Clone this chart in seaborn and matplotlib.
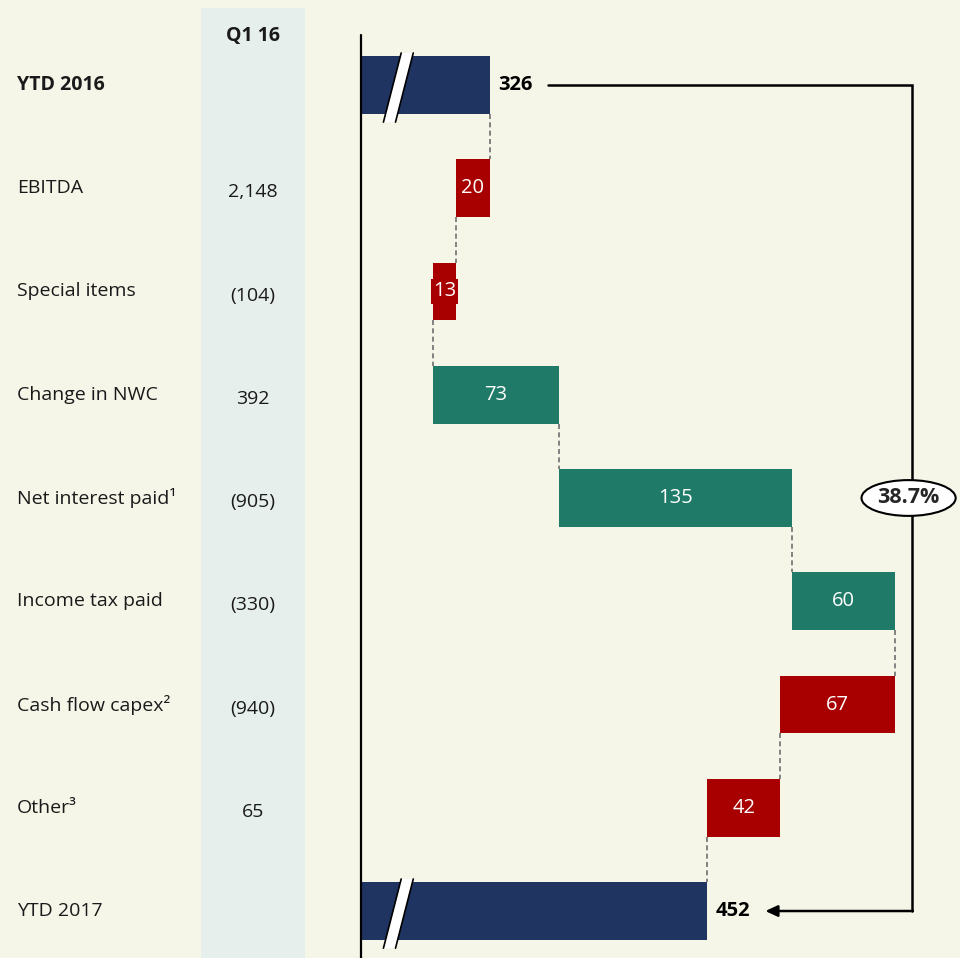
import numpy as np
import matplotlib
matplotlib.use('Agg')
import matplotlib.pyplot as plt
import matplotlib.transforms as mtransforms
from matplotlib.patches import Rectangle, Polygon
import seaborn as sns

# data
labels = ['YTD 2016', 'EBITDA', 'Special items', 'Change in NWC', 'Net interest paid¹',
          'Income tax paid', 'Cash flow capex²', 'Other³', 'YTD 2017']
q1_16 = ['', '2,148', '(104)', '392', '(905)', '(330)', '(940)', '65', '']
changes = [326, -20, -13, 73, 135, 60, -67, -42, 452]
growth = '38.7%'

BG = '#f5f6e8'
BAND = '#e6efec'
NAVY = '#1f3461'
RED = '#a80000'
GREEN = '#1f7a68'

sns.set_theme(style='white')
plt.rcParams['font.family'] = ['Open Sans', 'DejaVu Sans']
FS = 14

fig = plt.figure(figsize=(9.6, 9.58), dpi=100, facecolor=BG)
ax = fig.add_axes([361 / 960, 0, 599 / 960, 1])
ax.set_facecolor(BG)
xmin, xmax = 251.2, 598.4
ax.set_xlim(xmin, xmax)
ax.set_ylim(8.455, -0.823)
ax.axis('off')

# band behind the Q1 16 column
fig.patches.append(Rectangle((201 / 960, 0), 104 / 960, 950 / 958, transform=fig.transFigure,
                             facecolor=BAND, edgecolor='none', zorder=-1))

h = 0.56
n = len(changes)
running = 0
lefts, widths, colors, ends = [], [], [], []
for i, c in enumerate(changes):
    if i == 0 or i == n - 1:
        lefts.append(xmin)
        widths.append(c - xmin)
        colors.append(NAVY)
        running = c
    else:
        new = running + c
        lefts.append(min(running, new))
        widths.append(abs(c))
        colors.append(GREEN if c > 0 else RED)
        running = new
    ends.append(running)

ys = np.arange(n)
ax.barh(ys, widths, left=lefts, height=h, color=colors, edgecolor='none', linewidth=0, zorder=2)

# axis line
ax.plot([xmin, xmin], [-0.484, 8.455], color='black', lw=1.6, clip_on=False, zorder=3)

# break marks on the total bars
for i in [0, n - 1]:
    y0, y1 = i - h / 2 - 0.03, i + h / 2 + 0.08
    pts = [(xmin + 13, y1), (xmin + 20, y1), (xmin + 30.3, y0), (xmin + 23.3, y0)]
    ax.add_patch(Polygon(pts, closed=True, facecolor='white', edgecolor='none', zorder=4))
    ax.plot([pts[0][0], pts[3][0]], [y1, y0], color='black', lw=1.2, zorder=5)
    ax.plot([pts[1][0], pts[2][0]], [y1, y0], color='black', lw=1.2, zorder=5)

# dashed connectors
for i in range(n - 1):
    ax.plot([ends[i], ends[i]], [i + h / 2, i + 1 - h / 2], color='#6e6e6e', lw=1.2,
            dashes=(3, 2), zorder=1)

# value labels
for i, c in enumerate(changes):
    if i == 0 or i == n - 1:
        ax.text(ends[i] + 4.8, i, str(c), ha='left', va='center', fontsize=14.5,
                fontweight='bold', color='black', zorder=6)
    else:
        bbox = None
        if widths[i] < 15:
            bbox = dict(boxstyle='square,pad=0.1', facecolor=colors[i], edgecolor='none')
        ax.text(lefts[i] + widths[i] / 2, i, str(abs(c)), ha='center', va='center',
                fontsize=14.5, color='white', bbox=bbox, zorder=6)

# bracket with growth
bx = 570.6
ax.plot([ends[0] + 33.6, bx, bx], [0, 0, n - 1], color='black', lw=1.8, zorder=3,
        solid_joinstyle='miter')
ax.annotate('', xy=(ends[-1] + 33.6, n - 1), xytext=(bx + 0.5, n - 1),
            arrowprops=dict(arrowstyle='-|>,head_length=0.6,head_width=0.28', color='black',
                            lw=1.8, shrinkA=0, shrinkB=0), zorder=3)
ax.text(bx - 2, 4, growth, ha='center', va='center', fontsize=15.5, fontweight='bold', zorder=7,
        bbox=dict(boxstyle='ellipse,pad=0.1', facecolor='white', edgecolor='black', lw=1.5))

# left table
trans = mtransforms.blended_transform_factory(fig.transFigure, ax.transData)
for i, lab in enumerate(labels):
    ax.text(17 / 960, i, lab, transform=trans, ha='left', va='center', fontsize=FS,
            fontweight='bold' if i == 0 else 'normal', color='#1a1a1a')
    ax.text(253 / 960, i + 0.04, q1_16[i], transform=trans, ha='center', va='center',
            fontsize=FS, color='#1a1a1a')
ax.text(253 / 960, -0.475, 'Q1 16', transform=trans, ha='center', va='center', fontsize=FS,
        fontweight='bold', color='#1a1a1a')

fig.savefig('out.png', dpi=100, facecolor=BG)
